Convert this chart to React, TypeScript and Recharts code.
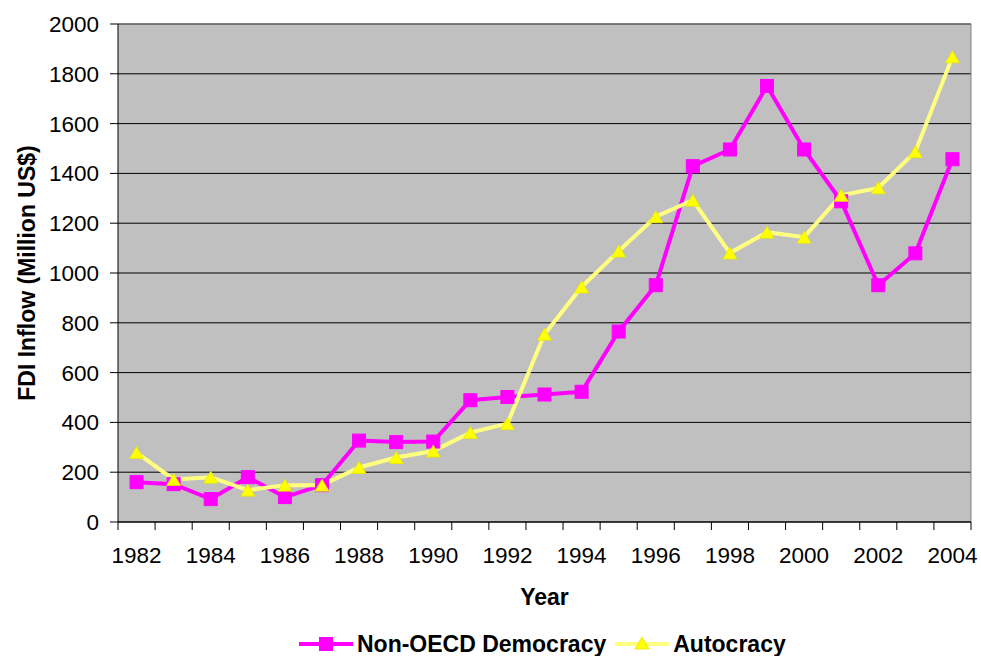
import {
  CartesianGrid,
  Legend,
  Line,
  LineChart,
  ReferenceLine,
  XAxis,
  YAxis,
} from 'recharts'

const years = [
  1982, 1983, 1984, 1985, 1986, 1987, 1988, 1989, 1990, 1991, 1992, 1993,
  1994, 1995, 1996, 1997, 1998, 1999, 2000, 2001, 2002, 2003, 2004,
]
const democracy = [
  160, 152, 92, 180, 100, 148, 327, 321, 323, 489, 502, 512, 523, 765, 951,
  1429, 1496, 1751, 1496, 1288, 951, 1079, 1457,
]
const autocracy = [
  279, 171, 180, 128, 148, 148, 219, 259, 285, 359, 395, 754, 944, 1088, 1226,
  1292, 1080, 1164, 1144, 1312, 1342, 1487, 1868,
]
const labelYears = [
  1982, 1984, 1986, 1988, 1990, 1992, 1994, 1996, 1998, 2000, 2002, 2004,
]
const yTicks = [0, 200, 400, 600, 800, 1000, 1200, 1400, 1600, 1800, 2000]
const seriesOrder = ['demo', 'auto']

const data = years.map((year, i) => ({
  year,
  demo: democracy[i],
  auto: autocracy[i],
}))

// tick marks sit between the years, labels on every other year
const edges = [...years.map((y) => y - 0.5), years[years.length - 1] + 0.5]
const xTicks = [...edges, ...labelYears].sort((a, b) => a - b)

const FONT = '"Liberation Sans", Arial, sans-serif'
const MAGENTA = '#FF00FF'
const YELLOW = '#FFFF00'
const YELLOW_LINE = '#FFFF80'

function XTick({ x, y, payload }: any) {
  const v = payload.value
  if (v % 1 !== 0) {
    return <line x1={x} x2={x} y1={y} y2={y + 8} stroke="#000" />
  }
  return (
    <text
      x={x}
      y={y + 25}
      dy="0.71em"
      textAnchor="middle"
      fill="#000"
      style={{ fontSize: 22.5, fontFamily: FONT }}
    >
      {v}
    </text>
  )
}

function Square({ cx, cy, size = 13 }: any) {
  if (cx == null || cy == null) return null
  return (
    <rect
      x={cx - size / 2}
      y={cy - size / 2}
      width={size}
      height={size}
      fill={MAGENTA}
      stroke={MAGENTA}
    />
  )
}

function Triangle({ cx, cy }: any) {
  if (cx == null || cy == null) return null
  const w = 14
  const h = 12
  return (
    <polygon
      points={`${cx},${cy - h / 2} ${cx + w / 2},${cy + h / 2} ${cx - w / 2},${cy + h / 2}`}
      fill={YELLOW}
      stroke="#E6E600"
      strokeWidth={0.8}
    />
  )
}

function renderLegend({ payload }: any) {
  const items = [...(payload || [])].sort(
    (a: any, b: any) =>
      seriesOrder.indexOf(a.dataKey) - seriesOrder.indexOf(b.dataKey),
  )
  return (
    <div
      style={{
        display: 'flex',
        alignItems: 'center',
        height: 24,
        paddingLeft: 299,
        fontFamily: FONT,
        fontWeight: 'bold',
        fontSize: 23,
        lineHeight: '24px',
        color: '#000',
      }}
    >
      {items.map((entry: any) => {
        const isDemo = entry.dataKey === 'demo'
        return (
          <div
            key={entry.dataKey}
            style={{ display: 'flex', alignItems: 'center', marginRight: 9 }}
          >
            <svg width={54} height={24} style={{ marginRight: 4 }}>
              <line
                x1={0}
                x2={54}
                y1={12}
                y2={12}
                stroke={isDemo ? MAGENTA : YELLOW_LINE}
                strokeWidth={4}
              />
              {isDemo ? <Square cx={27} cy={12} /> : <Triangle cx={27} cy={11} />}
            </svg>
            <span>{entry.value}</span>
          </div>
        )
      })}
    </div>
  )
}

export default function App() {
  return (
    <div style={{ position: 'absolute', left: 0, top: 0, background: '#fff' }}>
      <LineChart
        width={981}
        height={656}
        data={data}
        margin={{ top: 24, right: 10, bottom: 0, left: 0 }}
      >
        <CartesianGrid
          vertical={false}
          stroke="#000"
          fill="#C0C0C0"
          fillOpacity={1}
        />
        <XAxis
          dataKey="year"
          type="number"
          domain={[1981.5, 2004.5]}
          ticks={xTicks}
          interval={0}
          tickSize={0}
          tickMargin={0}
          tickLine={false}
          tick={<XTick />}
          axisLine={{ stroke: '#000' }}
          height={110}
          label={{
            value: 'Year',
            position: 'insideBottom',
            offset: 27,
            style: {
              fontSize: 23,
              fontWeight: 'bold',
              fontFamily: FONT,
              fill: '#000',
            },
          }}
        />
        <YAxis
          domain={[0, 2000]}
          ticks={yTicks}
          interval={0}
          width={118}
          tickSize={8}
          tickMargin={11}
          tick={{ fontSize: 22.5, fill: '#000', fontFamily: FONT }}
          tickLine={{ stroke: '#000' }}
          axisLine={{ stroke: '#000' }}
          label={{
            value: 'FDI Inflow (Million US$)',
            angle: -90,
            position: 'insideLeft',
            offset: 27,
            style: {
              textAnchor: 'middle',
              fontSize: 23,
              fontWeight: 'bold',
              fontFamily: FONT,
              fill: '#000',
            },
          }}
        />
        <ReferenceLine y={2000} stroke="#808080" />
        <ReferenceLine x={2004.5} stroke="#808080" />
        <Legend verticalAlign="bottom" content={renderLegend} wrapperStyle={{ left: 0, width: 981 }} />
        <Line
          dataKey="demo"
          name="Non-OECD Democracy"
          stroke={MAGENTA}
          strokeWidth={4}
          dot={(p: any) => <Square key={`d-${p.index}`} cx={p.cx} cy={p.cy} />}
          activeDot={false}
          isAnimationActive={false}
        />
        <Line
          dataKey="auto"
          name="Autocracy"
          stroke={YELLOW_LINE}
          strokeWidth={4}
          dot={(p: any) => <Triangle key={`a-${p.index}`} cx={p.cx} cy={p.cy} />}
          activeDot={false}
          isAnimationActive={false}
        />
      </LineChart>
    </div>
  )
}
